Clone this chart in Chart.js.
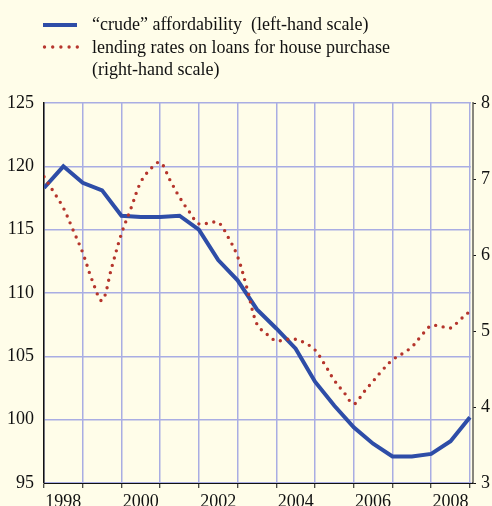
<!DOCTYPE html>
<html>
<head>
<meta charset="utf-8">
<script src="https://cdn.jsdelivr.net/npm/chart.js@4"></script>
<style>
  html, body { margin: 0; padding: 0; background: #FFFDE9; }
  #wrap { position: relative; width: 492px; height: 506px; overflow: hidden; background: #FFFDE9; }
  #legend { position: absolute; left: 0; top: 0; width: 492px; font-family: 'Liberation Serif', 'Times New Roman', serif; font-size: 18px; color: #111; }
  .row { position: absolute; left: 92px; white-space: pre; line-height: 22px; }
  .sw { position: absolute; left: 42px; }
</style>
</head>
<body>
<div id="wrap">
  <canvas id="c" width="492" height="506"></canvas>
  <div id="legend">
    <div class="sw" style="left:43px;top:23px;width:34px;height:4px;background:#2E4DA7;"></div>
    <svg class="sw" style="top:43px" width="40" height="8"><line x1="2.5" y1="4" x2="36" y2="4" stroke="#B7372E" stroke-width="3.4" stroke-linecap="round" stroke-dasharray="0 8.2"/></svg>
    <div class="row" style="top:13px">“crude” affordability  (left-hand scale)</div>
    <div class="row" style="top:36px">lending rates on loans for house purchase</div>
    <div class="row" style="top:58px">(right-hand scale)</div>
  </div>
</div>
<script>
// ---- data ----
const affordDates = [1998.0, 1998.5, 1999.0, 1999.5, 2000.0, 2000.5, 2001.0, 2001.5, 2002.0, 2002.5, 2003.0, 2003.5,
                     2004.0, 2004.5, 2005.0, 2005.5, 2006.0, 2006.5, 2007.0, 2007.5, 2008.0, 2008.5, 2009.0];
const affordValues = [118.3, 120.0, 118.7, 118.1, 116.1, 116.0, 116.0, 116.1, 115.0, 112.6, 111.0, 108.7,
                      107.2, 105.6, 103.0, 101.1, 99.4, 98.1, 97.1, 97.1, 97.3, 98.3, 100.2];
const rateDates = [1998.00, 1998.25, 1998.50, 1998.75, 1999.00, 1999.25, 1999.50, 1999.75,
                   2000.00, 2000.25, 2000.50, 2000.75, 2001.00, 2001.25, 2001.50, 2001.75,
                   2002.00, 2002.25, 2002.50, 2002.75, 2003.00, 2003.25, 2003.50, 2003.75,
                   2004.00, 2004.25, 2004.50, 2004.75, 2005.00, 2005.25, 2005.50, 2005.75,
                   2006.00, 2006.25, 2006.50, 2006.75, 2007.00, 2007.25, 2007.50, 2007.75,
                   2008.00, 2008.25, 2008.50, 2008.75, 2009.00];
const rateValues = [7.03, 6.83, 6.62, 6.33, 6.03, 5.66, 5.40, 5.84,
                    6.28, 6.62, 6.96, 7.13, 7.22, 6.99, 6.76, 6.57,
                    6.41, 6.42, 6.43, 6.24, 5.98, 5.55, 5.09, 4.96,
                    4.87, 4.89, 4.89, 4.84, 4.75, 4.56, 4.35, 4.19,
                    4.04, 4.19, 4.34, 4.49, 4.62, 4.70, 4.79, 4.94,
                    5.07, 5.06, 5.04, 5.15, 5.26];
const yearTicks = [1998, 1998.5, 1999, 1999.5, 2000, 2000.5, 2001, 2001.5, 2002, 2002.5, 2003, 2003.5,
                   2004, 2004.5, 2005, 2005.5, 2006, 2006.5, 2007, 2007.5, 2008, 2008.5, 2009];
const yearLabels = {1998.5: '1998', 2000.5: '2000', 2002.5: '2002', 2004.5: '2004', 2006.5: '2006', 2008.5: '2008'};
const leftTicks = [95, 100, 105, 110, 115, 120, 125];
const rightTicks = [3, 4, 5, 6, 7, 8];

const BG = '#FFFDE9';
const GRID = '#A9ADE3';
const FONT = { family: "'Liberation Serif', 'Times New Roman', serif", size: 18 };

const maskPlugin = {
  id: 'mask',
  beforeDatasetsDraw(chart) {
    const x = chart.scales.x;
    const a = chart.chartArea;
    const from = x.getPixelForValue(2009) + 1;
    const ctx = chart.ctx;
    ctx.save();
    ctx.fillStyle = BG;
    ctx.fillRect(from, a.top - 2, a.right - 0.5 - from, a.bottom - a.top + 1.5);
    ctx.restore();
  }
};

new Chart(document.getElementById('c'), {
  type: 'line',
  data: {
    datasets: [
      {
        label: 'lending rates',
        data: rateDates.map((d, i) => ({ x: d, y: rateValues[i] })),
        yAxisID: 'y2',
        borderColor: '#B5352C',
        borderWidth: 3.4,
        borderDash: [0, 7.6],
        borderCapStyle: 'round',
        pointRadius: 0,
        tension: 0.35,
        fill: false
      },
      {
        label: 'crude affordability',
        data: affordDates.map((d, i) => ({ x: d, y: affordValues[i] })),
        yAxisID: 'y',
        borderColor: '#2E4DA7',
        borderWidth: 4,
        borderJoinStyle: 'miter',
        pointRadius: 0,
        tension: 0,
        fill: false
      }
    ]
  },
  options: {
    responsive: false,
    devicePixelRatio: 1,
    animation: false,
    layout: { padding: { top: 103, left: 0, right: 0, bottom: 0 } },
    plugins: { legend: { display: false }, tooltip: { enabled: false } },
    scales: {
      x: {
        type: 'linear',
        min: 1998,
        max: 2009.08,
        afterBuildTicks: (s) => { s.ticks = yearTicks.map(v => ({ value: v })); },
        afterFit: (s) => { s.height = 23; },
        grid: {
          color: (c) => (c.tick && Number.isInteger(c.tick.value)) ? GRID : 'rgba(0,0,0,0)',
          tickColor: (c) => (c.tick && Number.isInteger(c.tick.value)) ? '#111' : 'rgba(0,0,0,0)',
          lineWidth: 1.5,
          tickLength: 5,
          tickWidth: 1
        },
        border: { display: true, color: '#111', width: 1 },
        ticks: {
          autoSkip: false,
          maxRotation: 0,
          minRotation: 0,
          padding: 3,
          color: '#111',
          font: FONT,
          callback: (v) => yearLabels[v] || ''
        }
      },
      y: {
        position: 'left',
        min: 95,
        max: 125,
        afterBuildTicks: (s) => { s.ticks = leftTicks.map(v => ({ value: v })); },
        afterFit: (s) => { s.width = 44; },
        grid: { color: GRID, lineWidth: 1.5, drawTicks: false },
        border: { display: true, color: '#111', width: 1.5 },
        ticks: { padding: 10, color: '#111', font: FONT }
      },
      y2: {
        position: 'right',
        min: 3,
        max: 8,
        afterBuildTicks: (s) => { s.ticks = rightTicks.map(v => ({ value: v })); },
        afterFit: (s) => { s.width = 19; },
        grid: { drawOnChartArea: false, tickLength: 3, tickColor: '#111' },
        border: { display: true, color: '#111', width: 1.5 },
        ticks: { padding: 5, color: '#111', font: FONT }
      }
    }
  },
  plugins: [maskPlugin]
});
</script>
</body>
</html>
